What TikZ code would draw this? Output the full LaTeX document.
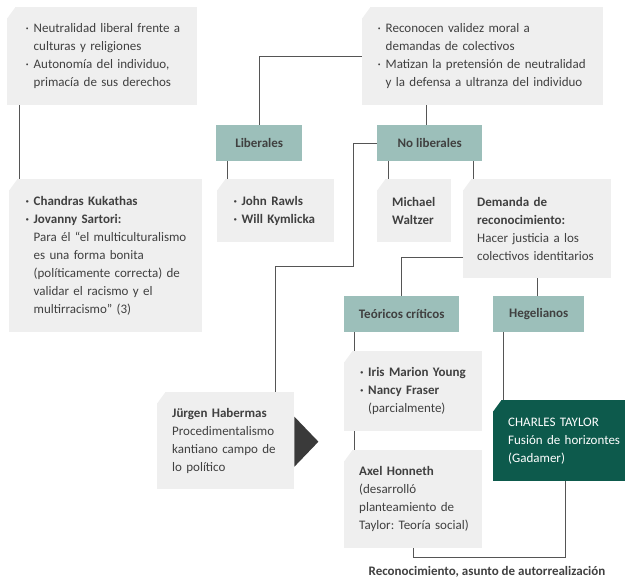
\documentclass[tikz,border=0pt]{standalone}
\usepackage{fontspec}
\setmainfont{Carlito}
\frenchspacing
\hyphenpenalty=10000
\definecolor{boxgray}{HTML}{EFEFEF}
\definecolor{teal}{HTML}{9CBFBA}
\definecolor{dgreen}{HTML}{0D5A4C}
\definecolor{txt}{HTML}{404040}
\definecolor{linec}{HTML}{555555}
\definecolor{arrowc}{HTML}{3A3A3A}
\newcommand{\bul}{\makebox[8pt][l]{·}}
\newcommand{\ind}{\hspace*{8pt}}
\tikzset{
  base/.style={anchor=north west, inner xsep=15pt, inner ysep=0pt, align=left,
    font=\fontsize{13}{18}\selectfont, text=txt},
  gbox/.style={base, fill=boxgray,
    path picture={\fill[white] (path picture bounding box.north west) -- ++(8pt,0) -- ++(-8pt,-11pt) -- cycle;}},
  dbox/.style={base, fill=dgreen, text=white,
    path picture={\fill[white] (path picture bounding box.north west) -- ++(8pt,0) -- ++(-8pt,-11pt) -- cycle;}},
  tbox/.style={anchor=north west, fill=teal, inner sep=0pt, align=center,
    font=\fontsize{13}{18}\selectfont\bfseries, text=txt},
  conn/.style={draw=linec, line width=1pt}
}
\begin{document}
\begin{tikzpicture}[x=1pt,y=-1pt]
\useasboundingbox (0,0) rectangle (625,580);
% boxes
\node[gbox, minimum width=190pt, minimum height=98pt, text width=165pt, inner xsep=12pt] (b1) at (7,7)
  {\hspace*{6pt}\bul Neutralidad liberal frente a\\\hspace*{6pt}\ind culturas y religiones\\\hspace*{6pt}\bul Autonomía del individuo,\\\hspace*{6pt}\ind primacía de sus derechos};
\node[gbox, minimum width=241pt, minimum height=98pt, text width=216pt, inner xsep=12pt] (b2) at (362,7)
  {\hspace*{3pt}\bul Reconocen validez moral a\\\hspace*{3pt}\ind demandas de colectivos\\\hspace*{3pt}\bul Matizan la pretensión de neutralidad\\\hspace*{3pt}\ind y la defensa a ultranza del individuo};
\node[gbox, minimum width=193pt, minimum height=153pt, text width=170pt, inner xsep=11pt] (b3) at (9,179)
  {\hspace*{5pt}\textbf{\bul Chandras Kukathas}\\\hspace*{5pt}\textbf{\bul Jovanny Sartori:}\\\hspace*{5pt}\ind Para él “el multiculturalismo\\\hspace*{5pt}\ind es una forma bonita\\\hspace*{5pt}\ind (políticamente correcta) de\\\hspace*{5pt}\ind validar el racismo y el\\\hspace*{5pt}\ind multirracismo” (3)};
\node[tbox, minimum width=86pt, minimum height=36pt] (lib) at (216,125) {Liberales};
\node[tbox, minimum width=105pt, minimum height=36pt] (nolib) at (377,125) {No liberales};
\node[gbox, minimum width=117pt, minimum height=63pt, text width=90pt, inner xsep=13pt] (rawls) at (217,179)
  {\textbf{\hspace*{3pt}\bul John Rawls\\\hspace*{3pt}\bul Will Kymlicka}};
\node[gbox, minimum width=74pt, minimum height=63pt, text width=50pt, inner xsep=12pt] (waltzer) at (377,179)
  {\hspace*{3pt}\textbf{Michael}\\\hspace*{3pt}\textbf{Waltzer}};
\node[gbox, minimum width=148pt, minimum height=99pt, text width=130pt, inner xsep=9pt] (demanda) at (463,179)
  {\hspace*{5pt}\textbf{Demanda de}\\\hspace*{5pt}\textbf{reconocimiento:}\\\hspace*{5pt}Hacer justicia a los\\\hspace*{5pt}colectivos identitarios};
\node[tbox, minimum width=115pt, minimum height=36pt] (teo) at (344,296) {Teóricos críticos};
\node[tbox, minimum width=91pt, minimum height=36pt] (heg) at (493,296) {Hegelianos};
\node[gbox, minimum width=138pt, minimum height=80pt, text width=118pt, inner xsep=10pt] (iris) at (344,351)
  {\hspace*{6pt}\textbf{\bul Iris Marion Young}\\\hspace*{6pt}\textbf{\bul Nancy Fraser}\\\hspace*{6pt}\ind (parcialmente)};
\node[gbox, minimum width=138pt, minimum height=98pt, text width=118pt, inner xsep=10pt] (axel) at (344,450)
  {\hspace*{5pt}\textbf{Axel Honneth}\\\hspace*{5pt}(desarrolló\\\hspace*{5pt}planteamiento de\\\hspace*{5pt}Taylor: Teoría social)};
\node[dbox, minimum width=132pt, minimum height=81pt, text width=128pt, inner xsep=2pt] (taylor) at (493,400)
  {\hspace*{13pt}CHARLES TAYLOR\\\hspace*{13pt}Fusión de horizontes\\\hspace*{13pt}(Gadamer)};
\node[gbox, minimum width=137pt, minimum height=97pt, text width=117pt, inner xsep=10pt] (haber) at (157,392)
  {\hspace*{5pt}\textbf{Jürgen Habermas}\\\hspace*{5pt}Procedimentalismo\\\hspace*{5pt}kantiano campo de\\\hspace*{5pt}lo político};
\fill[arrowc] ([yshift=24pt]haber.east) -- ([xshift=24pt,yshift=-1pt]haber.east) -- ([yshift=-26pt]haber.east) -- cycle;
% connectors
\draw[conn] ([xshift=12pt]b1.south west) -- ([xshift=12pt]b1.south west |- b3.north);
\draw[conn] (lib.north) |- (b2.west);
\draw[conn] ([xshift=-3.5pt]nolib.north |- b2.south) -- ([xshift=-3.5pt]nolib.north);
\draw[conn] ([xshift=11pt]lib.south west) -- ([xshift=11pt]lib.south west |- rawls.north);
\draw[conn] ([xshift=11pt]nolib.south west) -- ([xshift=11pt]nolib.south west |- waltzer.north);
\draw[conn] ([xshift=-9pt]nolib.south east) -- ([xshift=-9pt]nolib.south east |- demanda.north);
\draw[conn] (nolib.west) -- ++(-24pt,0) |- ([xshift=118pt,yshift=125pt]haber.north west) -- ([xshift=118pt]haber.north west);
\draw[conn] ([yshift=21pt]demanda.south west) -| (teo.north);
\draw[conn] (demanda.south) -- (demanda.south |- heg.north);
\draw[conn] ([xshift=10pt]teo.south west) -- ([xshift=10pt]teo.south west |- iris.north);
\draw[conn] ([xshift=10pt]iris.south west) -- ([xshift=10pt]iris.south west |- axel.north);
\draw[conn] ([xshift=10pt]heg.south west) -- ([xshift=10pt]heg.south west |- taylor.north);
\draw[conn] ([xshift=72pt]taylor.south west) |- ([xshift=69pt,yshift=-9pt]axel.south west) -- ([xshift=69pt]axel.south west);
\node[font=\fontsize{13}{16}\selectfont\bfseries, text=txt, anchor=base] (lbl) at (487,576) {Reconocimiento, asunto de autorrealización};
\end{tikzpicture}
\end{document}
